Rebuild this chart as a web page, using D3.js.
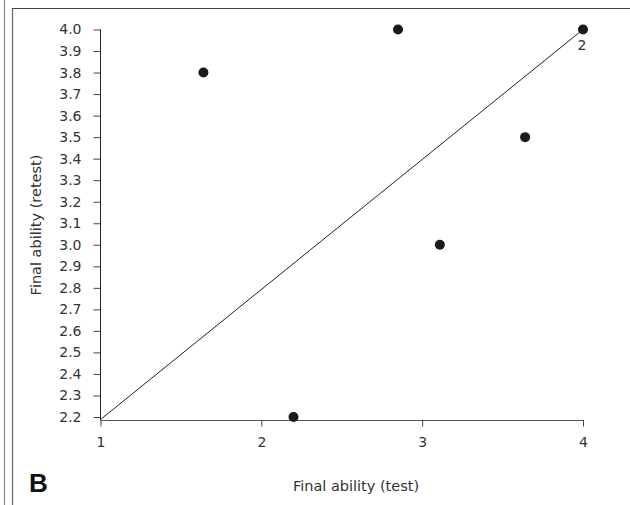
<!DOCTYPE html>
<html>
<head>
<meta charset="utf-8">
<script src="https://cdn.jsdelivr.net/npm/d3@7"></script>
<style>
  body { margin: 0; background: #fff; }
  text { font-family: "DejaVu Sans", sans-serif; fill: #333; }
</style>
</head>
<body>
<div class="chart"></div>
<script>
// test vs retest final ability
const testVals   = [1.64, 2.85, 4.0, 3.64, 3.11, 2.2];
const retestVals = [3.8, 4.0, 4.0, 3.5, 3.0, 2.2];
const pointLabels = ["", "", "2", "", "", ""];
const xTicks = [1, 2, 3, 4];
const yTicks = d3.range(22, 41).map(d => d / 10);

const width = 630, height = 505;
const fs = 14;

const svg = d3.select(".chart").append("svg")
    .attr("width", width)
    .attr("height", height);

// frame lines at the left and top
svg.append("line").attr("x1", 4.5).attr("x2", 4.5).attr("y1", 0).attr("y2", height)
    .attr("stroke", "#888").attr("stroke-width", 1.2);
svg.append("line").attr("x1", 12.5).attr("x2", 12.5).attr("y1", 8).attr("y2", height)
    .attr("stroke", "#666").attr("stroke-width", 1.2);
svg.append("line").attr("x1", 12).attr("x2", width).attr("y1", 8.5).attr("y2", 8.5)
    .attr("stroke", "#444").attr("stroke-width", 1.2);

const x = d3.scaleLinear().domain([1, 4]).range([100.5, 583]);
const y = d3.scaleLinear().domain([2.2, 4.0]).range([417, 29.5]);
const baseY = 420.5;

// y axis
const yAxis = svg.append("g")
    .attr("transform", "translate(100.5,0)")
    .call(d3.axisLeft(y).tickValues(yTicks).tickFormat(d3.format(".1f")).tickSize(7).tickPadding(12));
yAxis.attr("font-size", null);
yAxis.select(".domain").remove();
yAxis.append("line").attr("x1", 0).attr("x2", 0).attr("y1", y(4.0)).attr("y2", baseY)
    .attr("stroke", "#222");
yAxis.selectAll(".tick line").attr("stroke", "#444");
yAxis.selectAll("text").style("font-size", fs + "px").attr("fill", "#333");

// x axis
const xAxis = svg.append("g")
    .attr("transform", "translate(0," + baseY + ")")
    .call(d3.axisBottom(x).tickValues(xTicks).tickFormat(d3.format("d")).tickSize(6).tickPadding(11));
xAxis.attr("font-size", null);
xAxis.select(".domain").remove();
xAxis.append("line").attr("x1", x(1)).attr("x2", x(4) + 1).attr("y1", 0).attr("y2", 0)
    .attr("stroke", "#555");
xAxis.selectAll(".tick line").attr("stroke", "#444");
xAxis.selectAll("text").style("font-size", fs + "px").attr("fill", "#333");

// identity line
svg.append("line")
    .attr("x1", x(1)).attr("y1", baseY - 1)
    .attr("x2", x(4)).attr("y2", y(4.0))
    .attr("stroke", "#222").attr("stroke-width", 1);

// points
const pts = testVals.map((d, i) => ({t: d, r: retestVals[i], label: pointLabels[i]}));
svg.append("g").selectAll("circle")
    .data(pts)
    .join("circle")
    .attr("cx", d => x(d.t))
    .attr("cy", d => y(d.r))
    .attr("r", 5)
    .attr("fill", "#1a1a1a");

svg.append("g").selectAll("text")
    .data(pts.filter(d => d.label))
    .join("text")
    .attr("x", d => x(d.t) - 1)
    .attr("y", d => y(d.r) + 20)
    .attr("text-anchor", "middle")
    .style("font-size", fs + "px")
    .text(d => d.label);

// titles
svg.append("text")
    .attr("x", 356).attr("y", 491)
    .attr("text-anchor", "middle")
    .style("font-size", "14.5px")
    .text("Final ability (test)");

svg.append("text")
    .attr("transform", "translate(41,225) rotate(-90)")
    .attr("text-anchor", "middle")
    .style("font-size", "14.5px")
    .text("Final ability (retest)");

svg.append("text")
    .attr("x", 29).attr("y", 492)
    .style("font-family", "Liberation Sans, Arial, sans-serif")
    .attr("font-weight", "bold")
    .style("font-size", "26px")
    .style("fill", "#111")
    .text("B");
</script>
</body>
</html>
